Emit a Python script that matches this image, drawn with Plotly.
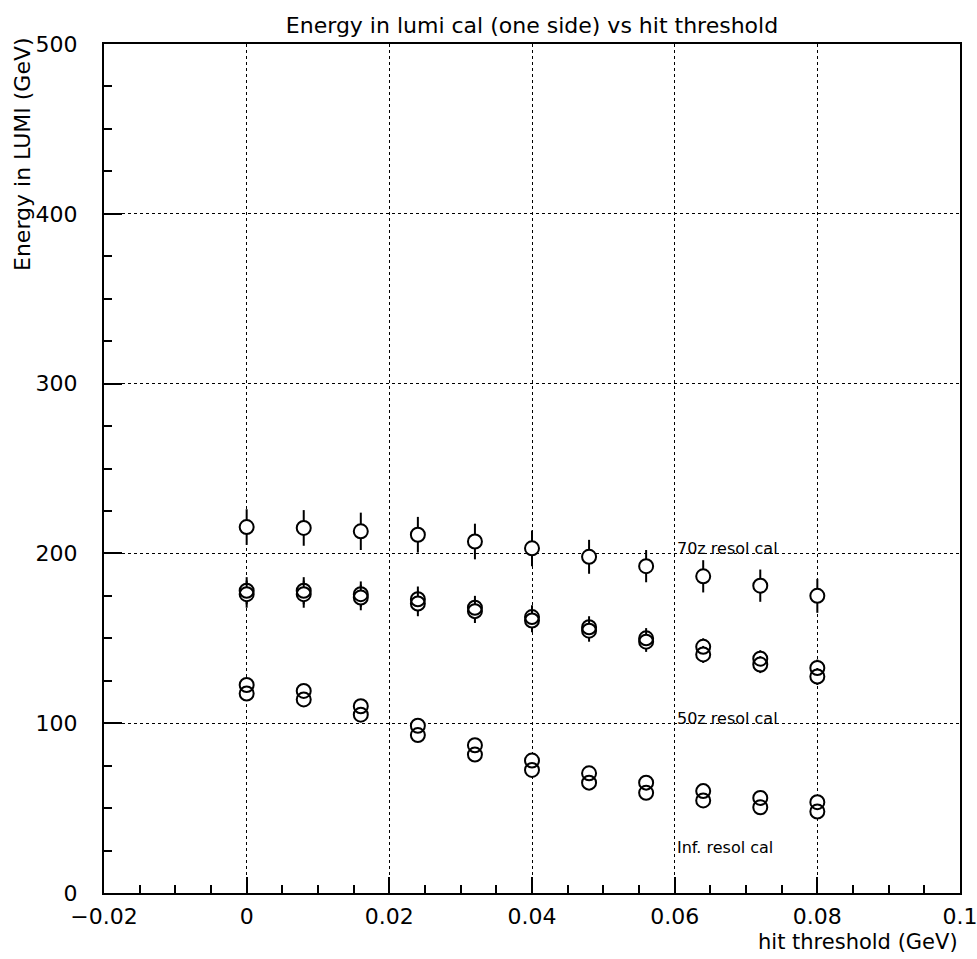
import plotly.graph_objects as go

# Hit threshold values (GeV)
threshold = [0.0, 0.008, 0.016, 0.024, 0.032, 0.040, 0.048, 0.056, 0.064, 0.072, 0.080]

# Energy deposited in one side of the lumi calorimeter (GeV)
e_70z = [215.5, 215.0, 213.0, 211.0, 207.0, 203.0, 198.0, 192.5, 186.5, 181.0, 175.0]
err_70z = [10.5, 10.5, 11.0, 10.5, 10.5, 10.5, 10.0, 9.5, 9.5, 9.5, 10.0]

e_50z_a = [178.0, 178.0, 176.0, 173.0, 168.0, 162.5, 156.5, 150.0, 145.0, 138.0, 132.5]
e_50z_b = [176.0, 176.0, 174.0, 170.5, 166.0, 160.5, 154.5, 148.0, 140.5, 134.5, 127.5]
err_50z = [8.0, 8.0, 7.5, 7.5, 7.0, 7.0, 6.5, 6.0, 5.0, 5.0, 5.0]

e_inf_a = [122.5, 119.0, 110.0, 98.5, 87.0, 78.0, 70.5, 65.0, 60.0, 56.0, 53.5]
e_inf_b = [117.5, 114.0, 105.0, 93.0, 81.5, 72.5, 65.0, 59.0, 54.5, 50.5, 48.0]
err_inf = [3.0, 3.0, 3.0, 3.0, 3.0, 3.0, 3.0, 3.0, 3.0, 3.0, 3.0]

series = [
    (e_70z, err_70z),
    (e_50z_a, err_50z),
    (e_50z_b, err_50z),
    (e_inf_a, err_inf),
    (e_inf_b, err_inf),
]

# Curve labels and where they sit (x, y in data units)
curve_labels = ["70z resol cal", "50z resol cal", "Inf. resol cal"]
label_x = [0.06, 0.06, 0.06]
label_y = [203, 103, 27]

x_ticks = [-0.02, 0.0, 0.02, 0.04, 0.06, 0.08, 0.1]
x_ticktext = ["\u22120.02", "0", "0.02", "0.04", "0.06", "0.08", "0.1"]
y_ticks = [0, 100, 200, 300, 400, 500]

FONT = "DejaVu Sans"
MSIZE = 14

fig = go.Figure()

# error bars with white-filled markers so the bars stop at the circle edge
for vals, errs in series:
    fig.add_trace(go.Scatter(
        x=threshold, y=vals, mode="markers",
        marker=dict(symbol="circle", size=MSIZE, color="white", line=dict(width=0)),
        error_y=dict(type="data", array=errs, visible=True, color="black",
                     thickness=2, width=0),
        showlegend=False, hoverinfo="skip",
    ))

# open circle outlines on top
for vals, _ in series:
    fig.add_trace(go.Scatter(
        x=threshold, y=vals, mode="markers",
        marker=dict(symbol="circle-open", size=MSIZE, color="black",
                    line=dict(width=2, color="black")),
        showlegend=False,
    ))

for txt, lx, ly in zip(curve_labels, label_x, label_y):
    fig.add_annotation(x=lx, y=ly, xref="x", yref="y", text=txt,
                       showarrow=False, xanchor="left", yanchor="middle",
                       font=dict(family=FONT, size=16, color="black"))

# axis titles
fig.add_annotation(x=1, y=0, xref="paper", yref="paper", text="hit threshold (GeV)",
                   showarrow=False, xanchor="right", yanchor="middle", yshift=-49,
                   font=dict(family=FONT, size=21, color="black"))
fig.add_annotation(x=0, y=1, xref="paper", yref="paper", text="Energy in LUMI (GeV)",
                   showarrow=False, textangle=-90, xanchor="center", yanchor="top",
                   xshift=-82, yshift=9,
                   font=dict(family=FONT, size=22, color="black"))

axis_common = dict(
    showline=True, linecolor="black", linewidth=2, mirror=True,
    ticks="inside", tickcolor="black", tickwidth=2,
    showgrid=True, gridcolor="black", gridwidth=1, griddash="dot",
    zeroline=False, automargin=False, ticklabeloverflow="allow",
    tickfont=dict(family=FONT, size=22, color="black"),
)

fig.update_xaxes(
    range=[-0.02, 0.1], tickmode="array", tickvals=x_ticks, ticktext=x_ticktext,
    ticklen=16, ticklabelstandoff=3,
    minor=dict(dtick=0.005, tick0=0, ticks="inside", ticklen=8, tickwidth=2,
               tickcolor="black", showgrid=False),
    **axis_common,
)
fig.update_yaxes(
    range=[0, 500], tickmode="array", tickvals=y_ticks,
    ticklen=18, ticklabelstandoff=20,
    minor=dict(dtick=25, tick0=0, ticks="inside", ticklen=8, tickwidth=2,
               tickcolor="black", showgrid=False),
    **axis_common,
)

fig.update_layout(
    width=977, height=959,
    margin=dict(l=104, r=17, t=44, b=66),
    paper_bgcolor="white", plot_bgcolor="white",
    title=dict(text="Energy in lumi cal (one side) vs hit threshold",
               x=0.5, xref="paper", y=1 - 25 / 959, yref="container",
               xanchor="center", yanchor="middle",
               font=dict(family=FONT, size=22, color="black")),
)

fig.write_html("out.html")
